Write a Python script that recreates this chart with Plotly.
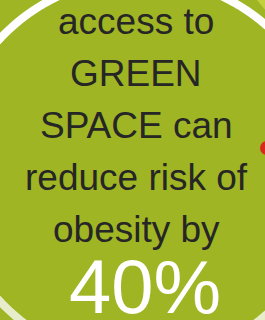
import numpy as np
import plotly.graph_objects as go

# Text content
lines = ["access to", "GREEN", "SPACE can", "reduce risk of", "obesity by"]
line_baselines = [33, 85, 137, 189, 241]
stat_value = "40%"
stat_baseline = 309

W, H = 265, 320
GREEN = "#9fb523"
TEXT = "#262626"

fig = go.Figure()

# ring geometry (decorative)
cx, cy, r = 140, 170, 192
def arc(a0, a1, n=120):
    t = np.linspace(a0, a1, n)
    xs = cx + r * np.cos(t)
    ys = cy + r * np.sin(t)
    return "M " + " L ".join(f"{x:.2f},{y:.2f}" for x, y in zip(xs, ys))

shapes = [
    # lighter corner
    dict(type="path", path="M 257,0 L 266,0 L 266,11 Z", fillcolor="#c2d03c",
         line=dict(width=0), layer="below"),
    # bottom cream arc
    dict(type="path", path=arc(0, np.pi), line=dict(color="#e7ecca", width=8), layer="below"),
    # top white arc
    dict(type="path", path=arc(np.pi, 2 * np.pi), line=dict(color="#ffffff", width=8), layer="below"),
    # red mark
    dict(type="circle", x0=260, x1=274, y0=141, y1=155, fillcolor="#d52a1c",
         line=dict(width=0), layer="below"),
]

annotations = []
fs = 37
for txt, b in zip(lines, line_baselines):
    annotations.append(dict(x=136, y=b - 0.3 * fs, text=txt, showarrow=False,
                            xanchor="center", yanchor="middle",
                            font=dict(family="Liberation Sans, Arial, sans-serif", size=fs, color=TEXT)))
fs2 = 76
annotations.append(dict(x=145, y=stat_baseline - 0.3 * fs2, text=stat_value, showarrow=False,
                        xanchor="center", yanchor="middle",
                        font=dict(family="Liberation Sans, Arial, sans-serif", size=fs2, color="#ffffff")))

fig.update_layout(
    width=W, height=H, margin=dict(l=0, r=0, t=0, b=0),
    paper_bgcolor=GREEN, plot_bgcolor=GREEN,
    xaxis=dict(range=[0, W], visible=False, fixedrange=True),
    yaxis=dict(range=[H, 0], visible=False, fixedrange=True),
    shapes=shapes, annotations=annotations, showlegend=False,
)
fig.write_html("out.html", config=dict(displayModeBar=False),
               post_script="document.body.style.margin='0';document.body.style.overflow='hidden';")
